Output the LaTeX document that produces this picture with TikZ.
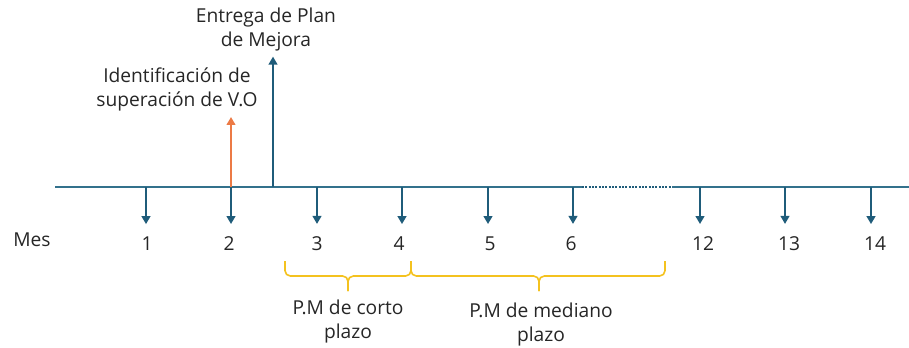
\documentclass[tikz,border=0pt]{standalone}
\usepackage{fontspec}
\setmainfont{Open Sans}
\setsansfont{Open Sans}
\usetikzlibrary{arrows.meta, positioning, decorations.pathreplacing}

\definecolor{axiscol}{HTML}{33718C}
\definecolor{tickcol}{HTML}{1F5C7A}
\definecolor{alertcol}{HTML}{EC7A45}
\definecolor{bracecol}{HTML}{F4C21F}

\begin{document}
\begin{tikzpicture} [ x=0.75pt, y=-0.75pt
                    , line width=1.5pt
                    , font=\sffamily\fontsize{14.4}{18}\selectfont
                    , axis/.style={draw=axiscol}
                    , tick/.style={draw=tickcol, -{Triangle[width=6.5pt,length=6pt]}, shorten >=9pt}
                    , num/.style={inner sep=0pt, text=black!85}
                    , note/.style={align=center, inner sep=0pt, text=black!85}
                    , curly/.style={draw=bracecol, line width=1.2pt, rounded corners=4pt}
                    ]

  \useasboundingbox (0,0) rectangle (909,347);

  % --- Time axis -------------------------------------------------------------
  \coordinate (A0) at (55,187);
  \coordinate (G1) at (582,187);
  \coordinate (G2) at (672,187);
  \coordinate (A1) at (909,187);

  \draw [axis] (A0) -- (G1);
  \draw [draw=tickcol, dash pattern=on 1.5pt off 1pt] (G1) -- (G2);
  \draw [axis] (G2) -- (A1);

  \node [num] (Mes) at (32,240) {Mes};
  % ---------------------------------------------------------------------------

  % --- Months ----------------------------------------------------------------
  \foreach \name/\x/\lx in {1/146/147, 2/231/229, 3/317/317, 4/402/399,
                            5/488/490, 6/573/571, 12/700/703, 13/785/789, 14/871/875}
  {
    \coordinate (T\name) at (\x,187);
    \node [num] (M\name) at (\lx,244) {\name};
    \draw [tick] (T\name) -- (M\name.north -| T\name);
  }
  % ---------------------------------------------------------------------------

  % --- Events ----------------------------------------------------------------
  \node [note] (VO) at (177,89) {Identificación de\\superación de V.O};
  \coordinate (EV) at (231,187);
  \draw [draw=alertcol, -{Triangle[width=6.5pt,length=6pt]}, shorten >=4pt]
        (EV) -- (VO.south -| EV);

  \node [note] (PM) at (266,30) {Entrega de Plan\\de Mejora};
  \coordinate (EP) at (273,187);
  \draw [draw=tickcol, -{Triangle[width=6.5pt,length=6pt]}, shorten >=3pt]
        (EP) -- (PM.south -| EP);
  % ---------------------------------------------------------------------------

  % --- Plan periods ----------------------------------------------------------
  \coordinate (B0) at (285,261);
  \coordinate (B1) at (411,261);
  \coordinate (B2) at (665,261);
  \coordinate (K1) at (348,276);
  \coordinate (K2) at (539,276);
  \coordinate (C1) at (348,291);
  \coordinate (C2) at (539,291);

  \draw [curly] (B0) |- (K1) -- (C1);
  \draw [curly] (C1) -- (K1) -| (B1);
  \draw [curly] (B1) |- (K2) -- (C2);
  \draw [curly] (C2) -- (K2) -| (B2);

  \node [note] (Corto)   at (348,322) {P.M de corto\\plazo};
  \node [note] (Mediano) at (541,325) {P.M de mediano\\plazo};
  % ---------------------------------------------------------------------------
\end{tikzpicture}
\end{document}
